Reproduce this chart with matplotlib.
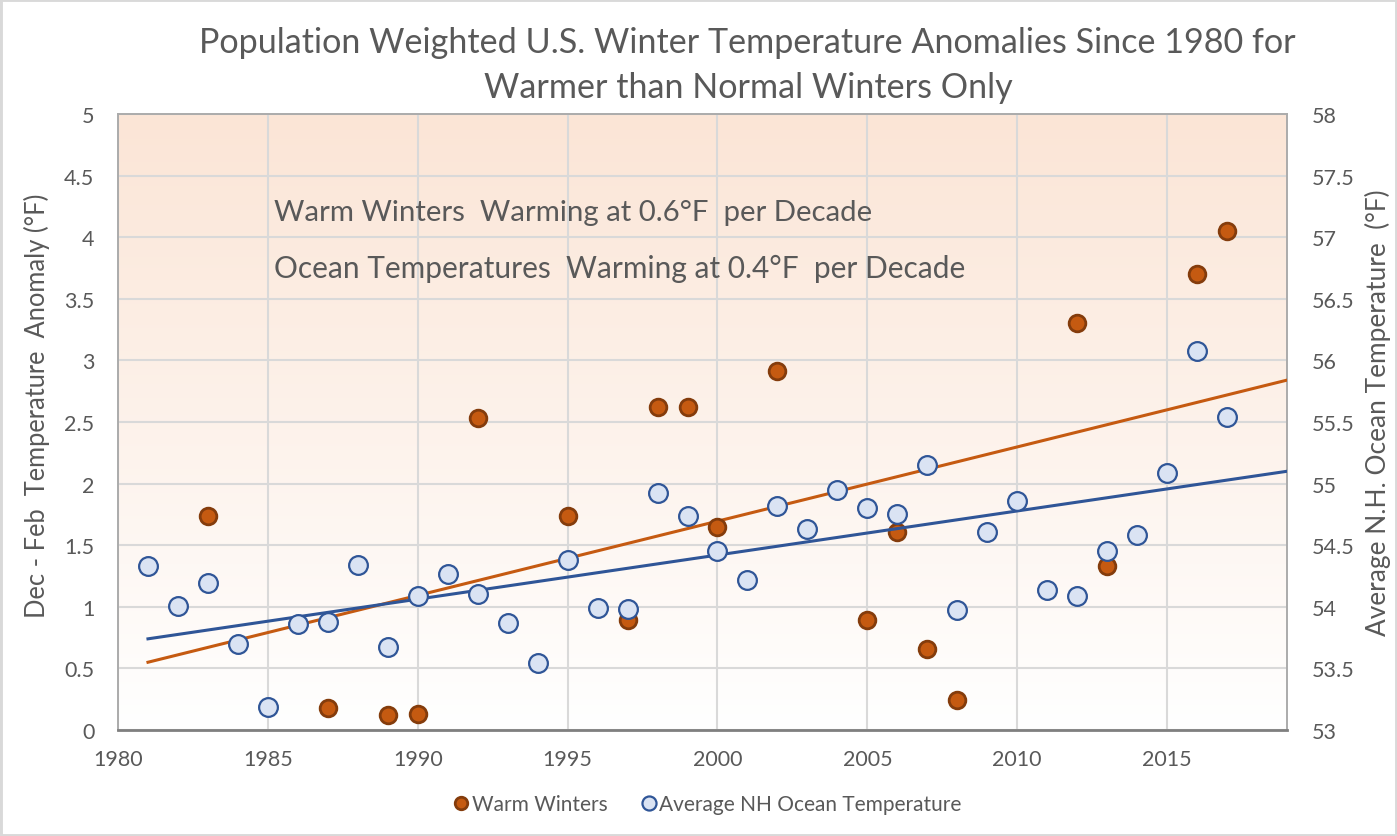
import numpy as np
import matplotlib.pyplot as plt
from matplotlib.patches import Rectangle
from matplotlib.colors import LinearSegmentedColormap

plt.rcParams['font.family'] = ['Lato', 'DejaVu Sans']

warm_years = [1983, 1987, 1989, 1990, 1992, 1995, 1997, 1998, 1999, 2000,
              2002, 2005, 2006, 2007, 2008, 2012, 2013, 2016, 2017]
warm_values = [1.74, 0.18, 0.12, 0.13, 2.53, 1.74, 0.89, 2.62, 2.62, 1.65,
               2.91, 0.89, 1.61, 0.66, 0.24, 3.30, 1.33, 3.70, 4.05]

ocean_years = list(range(1981, 2018))
ocean_values = [54.33, 54.01, 54.19, 53.70, 53.19, 53.86, 53.88, 54.34, 53.67, 54.09,
                54.27, 54.10, 53.87, 53.54, 54.38, 53.99, 53.98, 54.92, 54.74, 54.45,
                54.22, 54.82, 54.63, 54.95, 54.80, 54.75, 55.15, 53.97, 54.61, 54.86,
                54.14, 54.09, 54.45, 54.58, 55.09, 56.08, 55.54]

trend_years = [1981, 2019]
warm_trend = [0.55, 2.84]
ocean_trend = [53.74, 55.10]

x_ticks = [1980, 1985, 1990, 1995, 2000, 2005, 2010, 2015]
left_ticks = [0, 0.5, 1, 1.5, 2, 2.5, 3, 3.5, 4, 4.5, 5]
left_labels = ['0', '0.5', '1', '1.5', '2', '2.5', '3', '3.5', '4', '4.5', '5']
right_ticks = [53, 53.5, 54, 54.5, 55, 55.5, 56, 56.5, 57, 57.5, 58]
right_labels = ['53', '53.5', '54', '54.5', '55', '55.5', '56', '56.5', '57', '57.5', '58']

W, H = 1397, 837
TEXT = '#595959'
ORANGE = '#C55A11'
ORANGE_EDGE = '#843C0C'
BLUE = '#2F5597'
BLUE_FILL = '#DAE3F3'

fig = plt.figure(figsize=(W / 100, H / 100), dpi=100)
fig.patch.set_facecolor('white')
fig.add_artist(Rectangle((0, 0), 1, 1, transform=fig.transFigure, fill=False,
                         edgecolor='#D9D9D9', linewidth=3.5))

ax = fig.add_axes([118 / W, 1 - 731 / H, (1287 - 118) / W, (731 - 115) / H])

# background gradient, peach at the top fading to white
cmap = LinearSegmentedColormap.from_list('bg', ['#FBE5D6', '#FFFFFF'])
ax.imshow(np.linspace(0, 1, 256).reshape(-1, 1), cmap=cmap, aspect='auto',
          extent=(0, 1, 0, 1), transform=ax.transAxes, zorder=0)
ax.set_xlim(1980, 2019)
ax.set_ylim(0, 5)

ax.grid(True, color='#D9D9D9', linewidth=1.5)
ax.set_axisbelow(True)
ax.set_xticks(x_ticks)
ax.set_yticks(left_ticks)
ax.set_yticklabels(left_labels)
ax.tick_params(length=0, labelsize=15.5, labelcolor=TEXT)
ax.tick_params(axis='x', pad=14)
ax.tick_params(axis='y', pad=17)
for side in ['top', 'left', 'right']:
    ax.spines[side].set_color('#ABABAB')
    ax.spines[side].set_linewidth(1.4)
ax.spines['bottom'].set_color('#7F7F7F')
ax.spines['bottom'].set_linewidth(2.0)

ax.plot(trend_years, warm_trend, color=ORANGE, linewidth=2.2, zorder=3)
warm_pts, = ax.plot(warm_years, warm_values, 'o', color=ORANGE, markersize=12,
                    markeredgecolor=ORANGE_EDGE, markeredgewidth=2, zorder=4,
                    clip_on=False, label='Warm Winters')

ax2 = ax.twinx()
ax2.set_ylim(53, 58)
ax2.set_yticks(right_ticks)
ax2.set_yticklabels(right_labels)
ax2.tick_params(length=0, labelsize=15.5, labelcolor=TEXT, pad=18)
for spine in ax2.spines.values():
    spine.set_visible(False)
ax2.plot(trend_years, ocean_trend, color=BLUE, linewidth=2.2, zorder=3)
ocean_pts, = ax2.plot(ocean_years, ocean_values, 'o', color=BLUE_FILL, markersize=13.5,
                      markeredgecolor=BLUE, markeredgewidth=1.6, zorder=4,
                      label='Average NH Ocean Temperature')

fig.text(747 / W, 1 - 43 / H, 'Population Weighted U.S. Winter Temperature Anomalies Since 1980 for',
         ha='center', va='center', fontsize=24.6, color=TEXT)
fig.text(748 / W, 1 - 88 / H, 'Warmer than Normal Winters Only',
         ha='center', va='center', fontsize=24.6, color=TEXT)

fig.text(37 / W, 1 - 406 / H, 'Dec - Feb  Temperature  Anomaly (°F)', rotation=90,
         ha='center', va='center', fontsize=18.4, color=TEXT)
fig.text(1378 / W, 1 - 413 / H, 'Average N.H. Ocean Temperature  (°F)', rotation=90,
         ha='center', va='center', fontsize=18.9, color=TEXT)

fig.text(274 / W, 1 - 213 / H, 'Warm Winters  Warming at 0.6°F  per Decade',
         ha='left', va='center', fontsize=21.2, color=TEXT, zorder=10)
fig.text(274 / W, 1 - 269 / H, 'Ocean Temperatures  Warming at 0.4°F  per Decade',
         ha='left', va='center', fontsize=21.5, color=TEXT, zorder=10)

fig.legend(handles=[warm_pts, ocean_pts], loc='center', bbox_to_anchor=(701 / W, 1 - 805 / H),
           ncol=2, frameon=False, fontsize=15, labelcolor=TEXT, handletextpad=-0.5,
           columnspacing=1.0, markerscale=0.75)

fig.savefig('out.png', dpi=100)
plt.close()
